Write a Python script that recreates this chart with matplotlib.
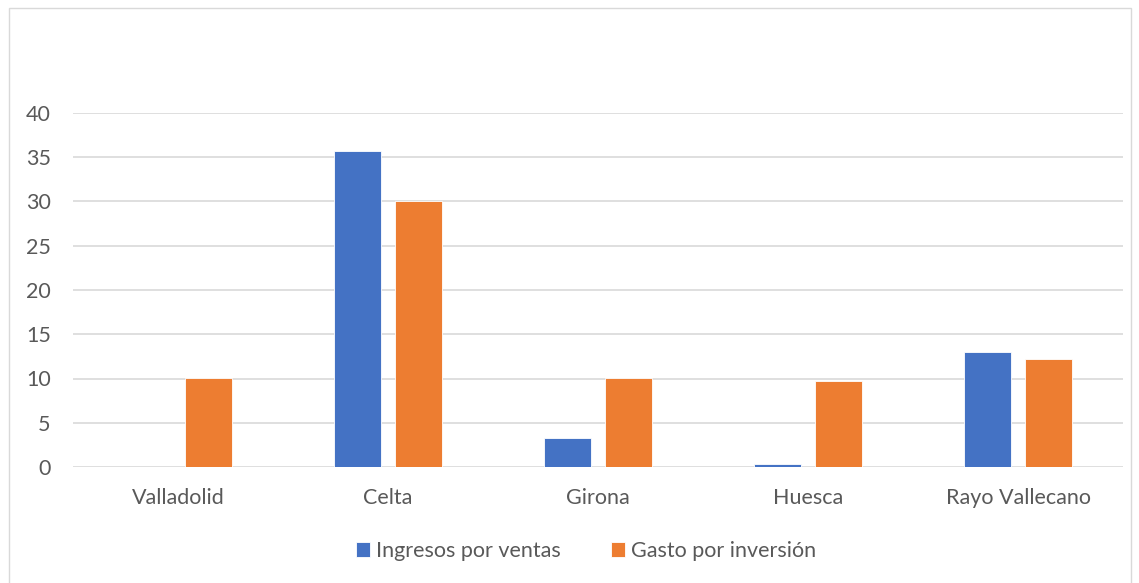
import matplotlib.pyplot as plt
import numpy as np
from matplotlib.patches import Rectangle

equipos = ["Valladolid", "Celta", "Girona", "Huesca", "Rayo Vallecano"]
ingresos = [0, 35.7, 3.3, 0.3, 13.0]
gasto = [10.1, 30.0, 10.1, 9.75, 12.25]
yticks = [0, 5, 10, 15, 20, 25, 30, 35, 40]

azul = "#4472C4"
naranja = "#ED7D31"
gris = "#595959"

plt.rcParams['font.family'] = ['Lato', 'DejaVu Sans']

fig = plt.figure(figsize=(11.39, 5.83), dpi=100)
ax = fig.add_axes([73 / 1139, 1 - 467 / 583, 1050 / 1139, 354 / 583])

x = np.arange(len(equipos))
w = 0.224
off = 0.143
ax.bar(x - off, ingresos, w, color=azul, edgecolor="white", linewidth=0.6,
       label="Ingresos por ventas", zorder=3)
ax.bar(x + off, gasto, w, color=naranja, edgecolor="white", linewidth=0.6,
       label="Gasto por inversión", zorder=3)

ax.set_xlim(-0.5, len(equipos) - 0.5)
ax.set_ylim(0, 40)
ax.set_yticks(yticks)
ax.set_xticks(x)
ax.set_xticklabels(equipos)
ax.grid(axis="y", color="#D9D9D9", linewidth=1.2, zorder=0)
for s in ax.spines.values():
    s.set_visible(False)
ax.tick_params(axis="both", length=0, colors=gris, labelsize=15.5)
ax.tick_params(axis="y", pad=16)
ax.tick_params(axis="x", pad=15)

fig.legend(loc="center", bbox_to_anchor=(586 / 1139, 1 - 551 / 583), ncol=2,
           frameon=False, fontsize=15.5, labelcolor=gris, handlelength=0.65,
           handleheight=0.65, handletextpad=0.3, columnspacing=2.3)

fig.patches.append(Rectangle((9 / 1139, -0.01), 1122 / 1139, 1 - 8 / 583 + 0.01,
                             transform=fig.transFigure, fill=False,
                             edgecolor="#D9D9D9", linewidth=1))

fig.savefig("out.png", dpi=100)
